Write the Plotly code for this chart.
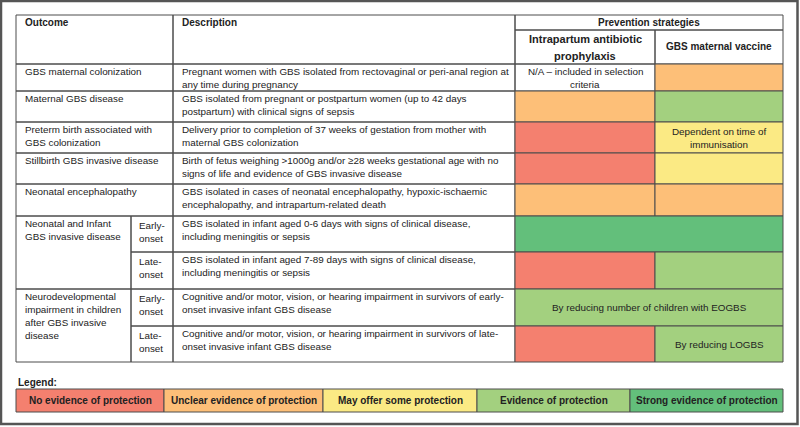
import plotly.graph_objects as go

# ---- table content ----
outcomes = [
    "GBS maternal colonization",
    "Maternal GBS disease",
    "Preterm birth associated with\nGBS colonization",
    "Stillbirth GBS invasive disease",
    "Neonatal encephalopathy",
    "Neonatal and Infant\nGBS invasive disease",
    "Neurodevelopmental\nimpairment in children\nafter GBS invasive\ndisease",
]
outcome_span = [1, 1, 1, 1, 1, 2, 2]  # how many rows each outcome covers
onsets = [None, None, None, None, None,
          "Early-\nonset", "Late-\nonset", "Early-\nonset", "Late-\nonset"]
descriptions = [
    "Pregnant women with GBS isolated from rectovaginal or peri-anal region at\nany time during pregnancy",
    "GBS isolated from pregnant or postpartum women (up to 42 days\npostpartum) with clinical signs of sepsis",
    "Delivery prior to completion of 37 weeks of gestation from mother with\nmaternal GBS colonization",
    "Birth of fetus weighing >1000g and/or \u226528 weeks gestational age with no\nsigns of life and evidence of GBS invasive disease",
    "GBS isolated in cases of neonatal encephalopathy, hypoxic-ischaemic\nencephalopathy, and intrapartum-related death",
    "GBS isolated in infant aged 0-6 days with signs of clinical disease,\nincluding meningitis or sepsis",
    "GBS isolated in infant aged 7-89 days with signs of clinical disease,\nincluding meningitis or sepsis",
    "Cognitive and/or motor, vision, or hearing impairment in survivors of early-\nonset invasive infant GBS disease",
    "Cognitive and/or motor, vision, or hearing impairment in survivors of late-\nonset invasive infant GBS disease",
]
# rating = index into levels, None = not rated
iap_rating = [None, 1, 0, 0, 1, 4, 0, 3, 0]
vaccine_rating = [1, 3, 2, 2, 1, 4, 3, 3, 3]
merged = [False, False, False, False, False, True, False, True, False]
iap_note = ["N/A \u2013 included in selection\ncriteria", None, None, None, None, None, None,
            "By reducing number of children with EOGBS", None]
vaccine_note = [None, None, "Dependent on time of\nimmunisation", None, None, None, None, None,
                "By reducing LOGBS"]

levels = ["No evidence of protection", "Unclear evidence of protection",
          "May offer some protection", "Evidence of protection",
          "Strong evidence of protection"]

# ---- styling / layout ----
level_colors = ["#F4806F", "#FDBF78", "#FBEA84", "#A3D07F", "#63BF7B"]
col_x = [16, 131, 173, 515, 655, 783]
header_y = [15, 30, 64]
row_h = [27, 31, 31, 31, 32, 36, 37, 37, 36]
legend_x = [16, 164, 323, 477, 630, 783]
legend_y = [389, 412]
line_col = "#4d4d4d"
txt_col = "#222222"
FONT = "Liberation Sans, Arial, sans-serif"
BODY = 9.85

row_y = [header_y[-1]]
for h in row_h:
    row_y.append(row_y[-1] + h)

fig = go.Figure()
shapes = []
annots = []


def cell(x0, x1, y0, y1, fill="rgba(0,0,0,0)", lc=line_col):
    shapes.append(dict(type="rect", xref="x", yref="y", x0=x0, x1=x1, y0=y0, y1=y1,
                       fillcolor=fill, line=dict(color=lc, width=1), layer="below"))


def text(s, x, y, size=BODY, bold=False, align="left", lh=13, ymode="top"):
    lines = s.split("\n")
    if ymode == "middle":
        y = y - (len(lines) - 1) * lh / 2
    for i, ln in enumerate(lines):
        annots.append(dict(x=x, y=y + i * lh, xref="x", yref="y", text="<b>%s</b>" % ln if bold else ln,
                           showarrow=False, xanchor=align, yanchor="middle",
                           font=dict(family=FONT, size=size, color=txt_col)))


# header
cell(col_x[0], col_x[2], header_y[0], header_y[2])
cell(col_x[2], col_x[3], header_y[0], header_y[2])
cell(col_x[3], col_x[5], header_y[0], header_y[1])
cell(col_x[3], col_x[4], header_y[1], header_y[2])
cell(col_x[4], col_x[5], header_y[1], header_y[2])
text("Outcome", col_x[0] + 7, 22.5, size=10, bold=True)
text("Description", col_x[2] + 7, 22.5, size=10, bold=True)
text("Prevention strategies", (col_x[3] + col_x[5]) / 2, 22.5, size=10, bold=True, align="center")
text("Intrapartum antibiotic\nprophylaxis", (col_x[3] + col_x[4]) / 2, 47, size=11, bold=True,
     align="center", lh=17, ymode="middle")
text("GBS maternal vaccine", (col_x[4] + col_x[5]) / 2, 46.5, size=10, bold=True, align="center")

# outcome column
r = 0
for name, span in zip(outcomes, outcome_span):
    y0, y1 = row_y[r], row_y[r + span]
    if onsets[r] is None:
        cell(col_x[0], col_x[2], y0, y1)
    else:
        cell(col_x[0], col_x[1], y0, y1)
    text(name, col_x[0] + 7, y0 + 7)
    r += span

for i in range(len(descriptions)):
    y0, y1 = row_y[i], row_y[i + 1]
    if onsets[i] is not None:
        cell(col_x[1], col_x[2], y0, y1)
        text(onsets[i], col_x[1] + 6, y0 + 9)
    cell(col_x[2], col_x[3], y0, y1)
    text(descriptions[i], col_x[2] + 7, y0 + 7)

    if merged[i]:
        cell(col_x[3], col_x[5], y0, y1, level_colors[iap_rating[i]])
        if iap_note[i]:
            text(iap_note[i], (col_x[3] + col_x[5]) / 2, (y0 + y1) / 2, align="center", ymode="middle")
        continue
    fill = "rgba(0,0,0,0)" if iap_rating[i] is None else level_colors[iap_rating[i]]
    cell(col_x[3], col_x[4], y0, y1, fill)
    if iap_note[i]:
        if iap_rating[i] is None:
            text(iap_note[i], (col_x[3] + col_x[4]) / 2, y0 + 7, align="center")
        else:
            text(iap_note[i], (col_x[3] + col_x[4]) / 2, (y0 + y1) / 2, align="center", ymode="middle")
    cell(col_x[4], col_x[5], y0, y1, level_colors[vaccine_rating[i]])
    if vaccine_note[i]:
        text(vaccine_note[i], (col_x[4] + col_x[5]) / 2, (y0 + y1) / 2, align="center", ymode="middle")

# legend
text("Legend:", legend_x[0], 382, size=10, bold=True)
for k, lab in enumerate(levels):
    cell(legend_x[k], legend_x[k + 1], legend_y[0], legend_y[1], level_colors[k])
    text(lab, (legend_x[k] + legend_x[k + 1]) / 2, (legend_y[0] + legend_y[1]) / 2,
         size=10, bold=True, align="center")

# outer frame
shapes.append(dict(type="rect", xref="x", yref="y", x0=1, x1=797.5, y0=1, y1=424,
                   line=dict(color="#555555", width=2.5), layer="above"))

fig.update_layout(
    width=800, height=427,
    margin=dict(l=0, r=0, t=0, b=0),
    paper_bgcolor="white", plot_bgcolor="white",
    xaxis=dict(range=[0, 800], visible=False, fixedrange=True),
    yaxis=dict(range=[427, 0], visible=False, fixedrange=True),
    shapes=shapes, annotations=annots, showlegend=False,
)

# page body has a default 8px margin; drop it so the figure sits at the window corner
fig.write_html("out.html", config={"displayModeBar": False},
               post_script="document.body.style.margin='0px';")
